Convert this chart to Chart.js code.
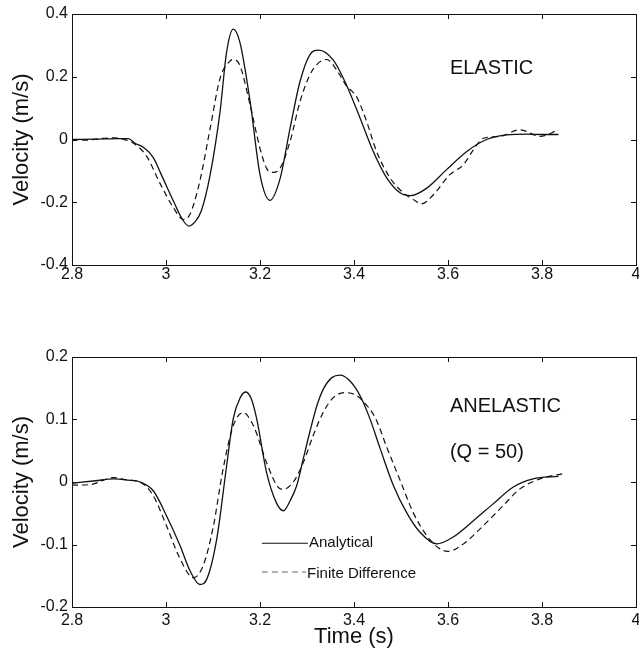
<!DOCTYPE html>
<html>
<head>
<meta charset="UTF-8">
<title>Velocity - elastic / anelastic</title>
<script src="https://cdn.jsdelivr.net/npm/chart.js"></script>
<style>
  body { margin: 0; background: #fff; overflow: hidden; width: 639px; height: 654px; }
  canvas { display: block; }
</style>
</head>
<body>
<canvas id="elasticChart" width="660" height="290"></canvas>
<canvas id="anelasticChart" width="660" height="364"></canvas>

<script>
// axis ticks
const timeTicks = [2.8, 3, 3.2, 3.4, 3.6, 3.8, 4];
const elasticVelTicks = [-0.4, -0.2, 0, 0.2, 0.4];
const anelasticVelTicks = [-0.2, -0.1, 0, 0.1, 0.2];

// elastic, analytical
const elasticAnalyticalT = [2.80, 2.85, 2.90, 2.92, 2.934, 2.952, 2.973, 2.99, 3.016, 3.035, 3.049, 3.062, 3.075, 3.094, 3.115, 3.129, 3.143, 3.157, 3.179, 3.200, 3.221, 3.243, 3.264, 3.285, 3.306, 3.325, 3.356, 3.384, 3.413, 3.441, 3.470, 3.498, 3.520, 3.555, 3.597, 3.640, 3.682, 3.725, 3.767, 3.800, 3.835];
const elasticAnalyticalV = [0.000, 0.001, 0.003, 0.003, -0.012, -0.025, -0.058, -0.112, -0.197, -0.255, -0.276, -0.262, -0.228, -0.112, 0.089, 0.279, 0.352, 0.311, 0.121, -0.112, -0.194, -0.123, 0.036, 0.184, 0.270, 0.285, 0.253, 0.174, 0.068, -0.038, -0.123, -0.170, -0.179, -0.155, -0.096, -0.038, 0.000, 0.015, 0.017, 0.016, 0.016];

// elastic, finite difference
const elasticFdT = [2.80, 2.83, 2.86, 2.89, 2.91, 2.931, 2.959, 2.987, 3.016, 3.037, 3.051, 3.072, 3.094, 3.115, 3.136, 3.142, 3.157, 3.179, 3.200, 3.214, 3.228, 3.243, 3.264, 3.285, 3.306, 3.323, 3.342, 3.370, 3.384, 3.395, 3.406, 3.427, 3.448, 3.477, 3.505, 3.526, 3.544, 3.569, 3.604, 3.633, 3.654, 3.675, 3.711, 3.753, 3.796, 3.835];
const elasticFdV = [0.000, -0.002, 0.003, 0.005, 0.000, -0.012, -0.054, -0.139, -0.218, -0.255, -0.238, -0.133, 0.036, 0.195, 0.250, 0.255, 0.237, 0.110, -0.028, -0.092, -0.105, -0.091, -0.006, 0.120, 0.206, 0.242, 0.255, 0.205, 0.170, 0.155, 0.135, 0.057, -0.038, -0.123, -0.170, -0.191, -0.205, -0.176, -0.112, -0.080, -0.033, 0.004, 0.010, 0.031, 0.010, 0.031];

// anelastic (Q = 50), analytical
const anelasticAnalyticalT = [2.80, 2.85, 2.888, 2.92, 2.945, 2.973, 3.001, 3.030, 3.051, 3.072, 3.087, 3.108, 3.129, 3.143, 3.158, 3.170, 3.182, 3.193, 3.214, 3.236, 3.250, 3.264, 3.278, 3.292, 3.306, 3.321, 3.335, 3.353, 3.370, 3.391, 3.413, 3.434, 3.455, 3.484, 3.512, 3.540, 3.576, 3.611, 3.654, 3.696, 3.739, 3.781, 3.835];
const anelasticAnalyticalV = [-0.002, 0.002, 0.005, 0.003, 0.000, -0.014, -0.054, -0.102, -0.142, -0.164, -0.155, -0.091, 0.026, 0.101, 0.135, 0.144, 0.132, 0.101, 0.015, -0.035, -0.046, -0.030, -0.006, 0.037, 0.080, 0.122, 0.149, 0.167, 0.171, 0.162, 0.138, 0.101, 0.055, -0.006, -0.049, -0.080, -0.099, -0.088, -0.062, -0.035, -0.008, 0.005, 0.009];

// anelastic (Q = 50), finite difference
const anelasticFdT = [2.80, 2.84, 2.888, 2.92, 2.945, 2.973, 3.001, 3.030, 3.058, 3.079, 3.101, 3.120, 3.143, 3.164, 3.186, 3.214, 3.236, 3.248, 3.271, 3.292, 3.313, 3.335, 3.356, 3.381, 3.406, 3.430, 3.447, 3.470, 3.498, 3.526, 3.555, 3.583, 3.600, 3.633, 3.675, 3.717, 3.753, 3.796, 3.849];
const anelasticFdV = [-0.005, -0.004, 0.007, 0.003, 0.000, -0.022, -0.070, -0.123, -0.153, -0.134, -0.070, 0.015, 0.090, 0.111, 0.090, 0.031, -0.006, -0.012, 0.000, 0.031, 0.074, 0.112, 0.135, 0.143, 0.138, 0.120, 0.100, 0.055, 0.003, -0.049, -0.086, -0.107, -0.111, -0.099, -0.070, -0.038, -0.011, 0.005, 0.014];

// text placed in data coordinates
const elasticNotes = [{ text: 'ELASTIC', t: 3.604, v: 0.210 }];
const anelasticNotes = [
    { text: 'ANELASTIC', t: 3.604, v: 0.112 },
    { text: '(Q = 50)', t: 3.604, v: 0.038 }
];
const legendItems = [
    { text: 'Analytical', t0: 3.204, t1: 3.302, v: -0.098, tv: -0.1045, dash: [] },
    { text: 'Finite Difference', t0: 3.204, t1: 3.298, v: -0.144, tv: -0.154, dash: [6, 4] }
];

const FONT = "'Liberation Sans', Arial, Helvetica, sans-serif";
const INK = '#111';

function toPoints(ts, vs) {
    return ts.map((t, i) => ({ x: t, y: vs[i] }));
}

// matlab-ish frame: box, inward ticks on all four sides, notes and legend
const matlabFrame = {
    id: 'matlabFrame',
    afterDraw(chart, args, opts) {
        const ctx = chart.ctx;
        const { left, right, top, bottom } = chart.chartArea;
        const xs = chart.scales.x, ys = chart.scales.y;
        const tl = 5;

        ctx.save();
        ctx.strokeStyle = INK;
        ctx.lineWidth = 1;
        ctx.setLineDash([]);
        ctx.strokeRect(left + 0.5, top + 0.5, right - left, bottom - top);

        ctx.beginPath();
        timeTicks.forEach(t => {
            const px = Math.round(xs.getPixelForValue(t)) + 0.5;
            ctx.moveTo(px, bottom); ctx.lineTo(px, bottom - tl);
            ctx.moveTo(px, top); ctx.lineTo(px, top + tl);
        });
        opts.yTicks.forEach(v => {
            const py = Math.round(ys.getPixelForValue(v)) + 0.5;
            ctx.moveTo(left, py); ctx.lineTo(left + tl, py);
            ctx.moveTo(right, py); ctx.lineTo(right - tl, py);
        });
        ctx.stroke();

        ctx.fillStyle = INK;
        ctx.textBaseline = 'alphabetic';
        ctx.textAlign = 'left';
        ctx.font = '20px ' + FONT;
        (opts.notes || []).forEach(n => {
            ctx.fillText(n.text, xs.getPixelForValue(n.t), ys.getPixelForValue(n.v));
        });

        ctx.font = '15px ' + FONT;
        ctx.lineWidth = 1;
        (opts.legend || []).forEach(item => {
            const py = ys.getPixelForValue(item.v);
            ctx.strokeStyle = item.dash.length ? '#666' : INK;
            ctx.setLineDash(item.dash);
            ctx.beginPath();
            ctx.moveTo(xs.getPixelForValue(item.t0), py);
            ctx.lineTo(xs.getPixelForValue(item.t1), py);
            ctx.stroke();
            ctx.fillText(item.text, xs.getPixelForValue(item.t1) + 1, ys.getPixelForValue(item.tv));
        });
        ctx.restore();
    }
};

function makeChart(id, cfg) {
    return new Chart(document.getElementById(id), {
        type: 'line',
        data: {
            datasets: [
                {
                    label: 'Analytical',
                    data: cfg.analytical,
                    borderColor: INK,
                    borderWidth: 1.3,
                    pointRadius: 0,
                    cubicInterpolationMode: 'monotone'
                },
                {
                    label: 'Finite Difference',
                    data: cfg.fd,
                    borderColor: INK,
                    borderWidth: 1.2,
                    borderDash: [6, 4],
                    pointRadius: 0,
                    cubicInterpolationMode: 'monotone'
                }
            ]
        },
        options: {
            responsive: false,
            animation: false,
            events: [],
            layout: { padding: { top: cfg.padTop, right: 24, left: 0, bottom: 0 } },
            plugins: {
                legend: { display: false },
                tooltip: { enabled: false },
                matlabFrame: { yTicks: cfg.yTicks, notes: cfg.notes, legend: cfg.legend }
            },
            scales: {
                x: {
                    type: 'linear',
                    min: 2.8,
                    max: 4,
                    afterBuildTicks: s => { s.ticks = timeTicks.map(v => ({ value: v })); },
                    afterFit: s => { s.height = cfg.xHeight; },
                    grid: { display: false, drawTicks: false },
                    border: { display: false },
                    ticks: {
                        padding: cfg.xTickPad,
                        color: INK,
                        font: { family: FONT, size: 16 },
                        maxRotation: 0,
                        autoSkip: false,
                        callback: v => String(+v.toFixed(1))
                    },
                    title: cfg.xTitle ? {
                        display: true,
                        text: cfg.xTitle,
                        color: INK,
                        font: { family: FONT, size: 22 },
                        padding: { top: 0, bottom: 4 }
                    } : { display: false }
                },
                y: {
                    type: 'linear',
                    min: cfg.yTicks[0],
                    max: cfg.yTicks[cfg.yTicks.length - 1],
                    afterBuildTicks: s => { s.ticks = cfg.yTicks.map(v => ({ value: v })); },
                    afterFit: s => { s.width = 72; },
                    grid: { display: false, drawTicks: false },
                    border: { display: false },
                    ticks: {
                        padding: 4,
                        color: INK,
                        font: { family: FONT, size: 16 },
                        autoSkip: false,
                        callback: v => String(+v.toFixed(1))
                    },
                    title: {
                        display: true,
                        text: 'Velocity (m/s)',
                        color: INK,
                        font: { family: FONT, size: 22 },
                        padding: { top: 9, bottom: 0 }
                    }
                }
            }
        },
        plugins: [matlabFrame]
    });
}

makeChart('elasticChart', {
    analytical: toPoints(elasticAnalyticalT, elasticAnalyticalV),
    fd: toPoints(elasticFdT, elasticFdV),
    yTicks: elasticVelTicks,
    notes: elasticNotes,
    padTop: 14,
    xHeight: 25,
    xTickPad: 0
});

makeChart('anelasticChart', {
    analytical: toPoints(anelasticAnalyticalT, anelasticAnalyticalV),
    fd: toPoints(anelasticFdT, anelasticFdV),
    yTicks: anelasticVelTicks,
    notes: anelasticNotes,
    legend: legendItems,
    padTop: 67,
    xHeight: 47,
    xTickPad: 4,
    xTitle: 'Time (s)'
});
</script>
</body>
</html>
